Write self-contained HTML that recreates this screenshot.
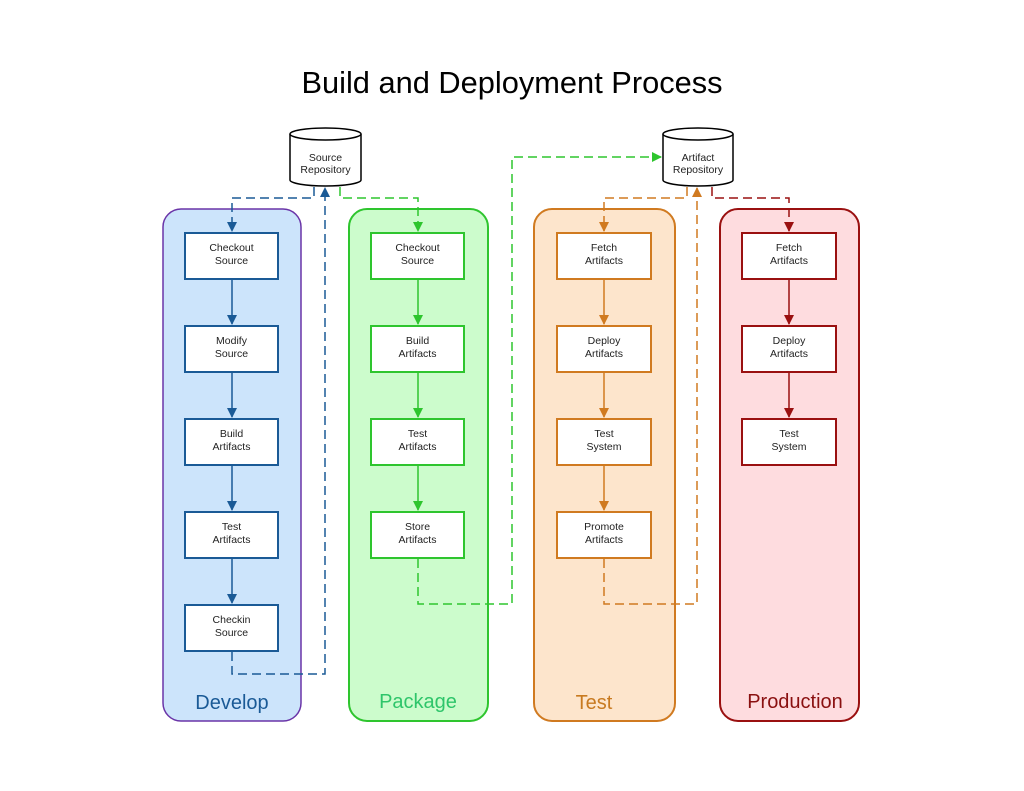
<!DOCTYPE html>
<html><head><meta charset="utf-8"><style>
html,body{margin:0;padding:0;background:#fff}
svg{display:block}
text{font-family:"Liberation Sans",Arial,sans-serif}
.bt{font-size:10.5px;fill:#222;text-anchor:middle}
</style></head><body>
<svg width="1024" height="791" viewBox="0 0 1024 791" xmlns="http://www.w3.org/2000/svg">
<defs>
<marker id="ab" markerWidth="10" markerHeight="10" refX="9" refY="5" orient="auto" markerUnits="userSpaceOnUse"><path d="M0,0 L10,5 L0,10 z" fill="#1a5a96"/></marker>
<marker id="ag" markerWidth="10" markerHeight="10" refX="9" refY="5" orient="auto" markerUnits="userSpaceOnUse"><path d="M0,0 L10,5 L0,10 z" fill="#2ec52e"/></marker>
<marker id="ao" markerWidth="10" markerHeight="10" refX="9" refY="5" orient="auto" markerUnits="userSpaceOnUse"><path d="M0,0 L10,5 L0,10 z" fill="#d07a20"/></marker>
<marker id="ar" markerWidth="10" markerHeight="10" refX="9" refY="5" orient="auto" markerUnits="userSpaceOnUse"><path d="M0,0 L10,5 L0,10 z" fill="#9a1010"/></marker>
</defs>
<text x="512" y="93" font-size="30.8" text-anchor="middle" fill="#000">Build and Deployment Process</text>

<rect x="163" y="209" width="138" height="512" rx="18" fill="#cce4fb" stroke="#6a35a8" stroke-width="1.5"/>
<rect x="349" y="209" width="139" height="512" rx="18" fill="#ccfccc" stroke="#2ec52e" stroke-width="2"/>
<rect x="534" y="209" width="141" height="512" rx="18" fill="#fde5cc" stroke="#d07a20" stroke-width="2"/>
<rect x="720" y="209" width="139" height="512" rx="18" fill="#fedcdf" stroke="#9a1010" stroke-width="2"/>
<text x="232" y="709" font-size="20" text-anchor="middle" fill="#1a5a96">Develop</text>
<text x="418" y="708" font-size="20" text-anchor="middle" fill="#2ec56a">Package</text>
<text x="594" y="709" font-size="20" text-anchor="middle" fill="#c87a20">Test</text>
<text x="795" y="708" font-size="20" text-anchor="middle" fill="#8a1010">Production</text>

<g fill="#fff" stroke="#000" stroke-width="1.5">
<path d="M290,134 V180 A35.5,6 0 0 0 361,180 V134"/>
<ellipse cx="325.5" cy="134" rx="35.5" ry="6"/>
<path d="M663,134 V180 A35,6 0 0 0 733,180 V134"/>
<ellipse cx="698" cy="134" rx="35" ry="6"/>
</g>
<text class="bt" x="325.5" y="161">Source</text><text class="bt" x="325.5" y="173">Repository</text>
<text class="bt" x="698" y="161">Artifact</text><text class="bt" x="698" y="173">Repository</text>

<g fill="none" stroke-width="1.5" stroke-dasharray="9,5">
<path d="M314,187 V198 H232 V231" stroke="#1a5a96" marker-end="url(#ab)"/>
<path d="M232,652 V674 H325 V188" stroke="#1a5a96" marker-end="url(#ab)"/>
<path d="M340,187 V198 H418 V231" stroke="#2ec52e" marker-end="url(#ag)"/>
<path d="M418,559 V604 H512 V157 H661" stroke="#2ec52e" marker-end="url(#ag)"/>
<path d="M687,187 V198 H604 V231" stroke="#d07a20" marker-end="url(#ao)"/>
<path d="M604,559 V604 H697 V188" stroke="#d07a20" marker-end="url(#ao)"/>
<path d="M712,187 V198 H789 V231" stroke="#9a1010" marker-end="url(#ar)"/>
</g>

<g stroke="#1a5a96" stroke-width="1.5">
<line x1="232" y1="279" x2="232" y2="324" marker-end="url(#ab)"/>
<line x1="232" y1="372" x2="232" y2="417" marker-end="url(#ab)"/>
<line x1="232" y1="465" x2="232" y2="510" marker-end="url(#ab)"/>
<line x1="232" y1="558" x2="232" y2="603" marker-end="url(#ab)"/>
<g fill="#fff" stroke-width="2">
<rect x="185" y="233" width="93" height="46"/><rect x="185" y="326" width="93" height="46"/>
<rect x="185" y="419" width="93" height="46"/><rect x="185" y="512" width="93" height="46"/>
<rect x="185" y="605" width="93" height="46"/></g></g>
<text class="bt" x="231.5" y="251">Checkout</text><text class="bt" x="231.5" y="264">Source</text>
<text class="bt" x="231.5" y="344">Modify</text><text class="bt" x="231.5" y="357">Source</text>
<text class="bt" x="231.5" y="437">Build</text><text class="bt" x="231.5" y="450">Artifacts</text>
<text class="bt" x="231.5" y="530">Test</text><text class="bt" x="231.5" y="543">Artifacts</text>
<text class="bt" x="231.5" y="623">Checkin</text><text class="bt" x="231.5" y="636">Source</text>

<g stroke="#2ec52e" stroke-width="1.5">
<line x1="418" y1="279" x2="418" y2="324" marker-end="url(#ag)"/>
<line x1="418" y1="372" x2="418" y2="417" marker-end="url(#ag)"/>
<line x1="418" y1="465" x2="418" y2="510" marker-end="url(#ag)"/>
<g fill="#fff" stroke-width="2">
<rect x="371" y="233" width="93" height="46"/><rect x="371" y="326" width="93" height="46"/>
<rect x="371" y="419" width="93" height="46"/><rect x="371" y="512" width="93" height="46"/></g></g>
<text class="bt" x="417.5" y="251">Checkout</text><text class="bt" x="417.5" y="264">Source</text>
<text class="bt" x="417.5" y="344">Build</text><text class="bt" x="417.5" y="357">Artifacts</text>
<text class="bt" x="417.5" y="437">Test</text><text class="bt" x="417.5" y="450">Artifacts</text>
<text class="bt" x="417.5" y="530">Store</text><text class="bt" x="417.5" y="543">Artifacts</text>

<g stroke="#d07a20" stroke-width="1.5">
<line x1="604" y1="279" x2="604" y2="324" marker-end="url(#ao)"/>
<line x1="604" y1="372" x2="604" y2="417" marker-end="url(#ao)"/>
<line x1="604" y1="465" x2="604" y2="510" marker-end="url(#ao)"/>
<g fill="#fff" stroke-width="2">
<rect x="557" y="233" width="94" height="46"/><rect x="557" y="326" width="94" height="46"/>
<rect x="557" y="419" width="94" height="46"/><rect x="557" y="512" width="94" height="46"/></g></g>
<text class="bt" x="604" y="251">Fetch</text><text class="bt" x="604" y="264">Artifacts</text>
<text class="bt" x="604" y="344">Deploy</text><text class="bt" x="604" y="357">Artifacts</text>
<text class="bt" x="604" y="437">Test</text><text class="bt" x="604" y="450">System</text>
<text class="bt" x="604" y="530">Promote</text><text class="bt" x="604" y="543">Artifacts</text>

<g stroke="#9a1010" stroke-width="1.5">
<line x1="789" y1="279" x2="789" y2="324" marker-end="url(#ar)"/>
<line x1="789" y1="372" x2="789" y2="417" marker-end="url(#ar)"/>
<g fill="#fff" stroke-width="2">
<rect x="742" y="233" width="94" height="46"/><rect x="742" y="326" width="94" height="46"/>
<rect x="742" y="419" width="94" height="46"/></g></g>
<text class="bt" x="789" y="251">Fetch</text><text class="bt" x="789" y="264">Artifacts</text>
<text class="bt" x="789" y="344">Deploy</text><text class="bt" x="789" y="357">Artifacts</text>
<text class="bt" x="789" y="437">Test</text><text class="bt" x="789" y="450">System</text>
</svg>
</body></html>
